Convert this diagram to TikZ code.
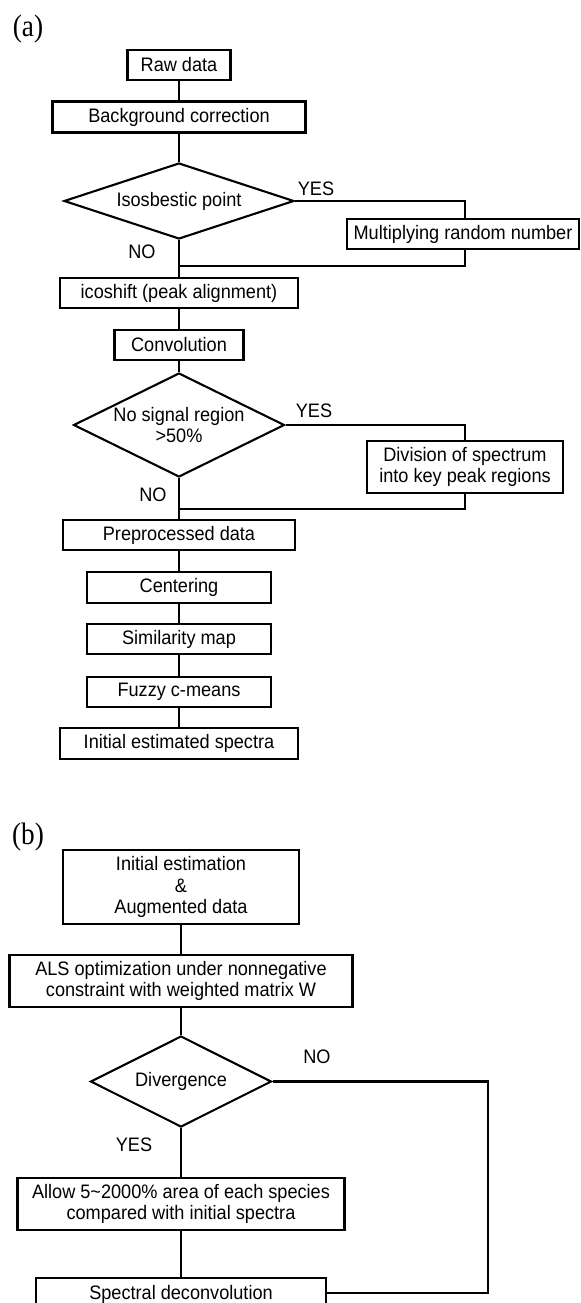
\documentclass[tikz,border=0pt]{standalone}
\usepackage{fontspec}
\setmainfont[FakeStretch=0.93]{Liberation Sans}
\newfontfamily\lblfont[FakeStretch=0.88]{Liberation Serif}
\usetikzlibrary{shapes.geometric}
\begin{document}
\begin{tikzpicture}[x=1bp,y=-1bp,
  every node/.style={font=\fontsize{19.5bp}{21.6bp}\selectfont},
  box/.style={draw, line width=2.1bp, inner sep=0pt, align=center},
  dia/.style={draw, diamond, line width=2.1bp, inner sep=0pt, align=center},
  conn/.style={line width=2.1bp},
  lbl/.style={inner sep=0pt},
  panel/.style={inner sep=0pt, font=\lblfont\fontsize{31bp}{34bp}\selectfont}]
\useasboundingbox (0,0) rectangle (581,1303);
\clip (0,0) rectangle (581,1303);
% (a)
\node[panel] (pa) at (28,29.5) {(a)};
\node[box, minimum width=103bp, minimum height=30bp] (raw) at (179,65) {Raw data};
\node[box, minimum width=253bp, minimum height=31bp] (bg) at (179,117) {Background correction};
\node[dia, minimum width=230bp, minimum height=76bp, aspect=3] (iso) at (179,201) {Isosbestic point};
\node[box, minimum width=232bp, minimum height=30bp] (mult) at (463,234) {Multiplying random number};
\node[box, minimum width=238bp, minimum height=30bp] (ico) at (179,293) {icoshift (peak alignment)};
\node[box, minimum width=129bp, minimum height=30bp] (conv) at (179,345) {Convolution};
\node[dia, minimum width=211bp, minimum height=104bp, aspect=2] (nosig) at (179,425) {No signal region\\[-1bp]{>}50\%};
\node[box, minimum width=196bp, minimum height=52bp] (div) at (465,467) {Division of spectrum\\into key peak regions};
\node[box, minimum width=232bp, minimum height=30bp] (pre) at (179,535) {Preprocessed data};
\node[box, minimum width=184bp, minimum height=31bp] (cent) at (179,587.5) {Centering};
\node[box, minimum width=184bp, minimum height=30bp] (sim) at (179,639) {Similarity map};
\node[box, minimum width=184bp, minimum height=30bp] (fuzzy) at (179,692) {Fuzzy c-means};
\node[box, minimum width=238bp, minimum height=31bp] (init) at (179,743.5) {Initial estimated spectra};
\node[lbl] (yes1) at (316,189) {YES};
\node[lbl] (no1) at (142,252) {NO};
\node[lbl] (yes2) at (314,411) {YES};
\node[lbl] (no2) at (153,495) {NO};
\coordinate (j1) at (179,266);
\coordinate (j2) at (179,509);
\draw[conn] (raw) -- (bg);
\draw[conn] (bg) -- (iso);
\draw[conn] (iso.east) -| (mult.north -| 465,0);
\draw[conn] (mult.south -| 465,0) |- (j1);
\draw[conn] (iso.south) -- (ico.north);
\draw[conn] (ico) -- (conv);
\draw[conn] (conv) -- (nosig);
\draw[conn] (nosig.east) -| (div.north);
\draw[conn] (div.south) |- (j2);
\draw[conn] (nosig.south) -- (pre.north);
\draw[conn] (pre) -- (cent);
\draw[conn] (cent) -- (sim);
\draw[conn] (sim) -- (fuzzy);
\draw[conn] (fuzzy) -- (init);
% (b)
\node[panel] (pb) at (28,837) {(b)};
\node[box, minimum width=236bp, minimum height=74bp] (est) at (181,887) {Initial estimation\\\&\\Augmented data};
\node[box, minimum width=343bp, minimum height=52bp] (als) at (181,981) {ALS optimization under nonnegative\\constraint with weighted matrix W};
\node[dia, minimum width=181bp, minimum height=91bp, aspect=2] (divg) at (181,1081.5) {Divergence};
\node[box, minimum width=327bp, minimum height=52bp] (allow) at (181,1204) {Allow 5\textasciitilde2000\% area of each species\\compared with initial spectra};
\node[box, minimum width=290bp, minimum height=32bp] (spec) at (181,1294) {Spectral deconvolution};
\node[lbl] (no3) at (317,1057) {NO};
\node[lbl] (yes3) at (134,1145) {YES};
\coordinate (c1) at (488,1081.5);
\coordinate (c2) at (488,1293);
\draw[conn] (est) -- (als);
\draw[conn] (als) -- (divg);
\draw[conn] (divg) -- (allow);
\draw[conn] (allow) -- (allow.south |- spec.north);
\draw[conn] (divg.east) -- (c1) -- (c2) -- (spec.east |- c2);
\end{tikzpicture}
\end{document}
